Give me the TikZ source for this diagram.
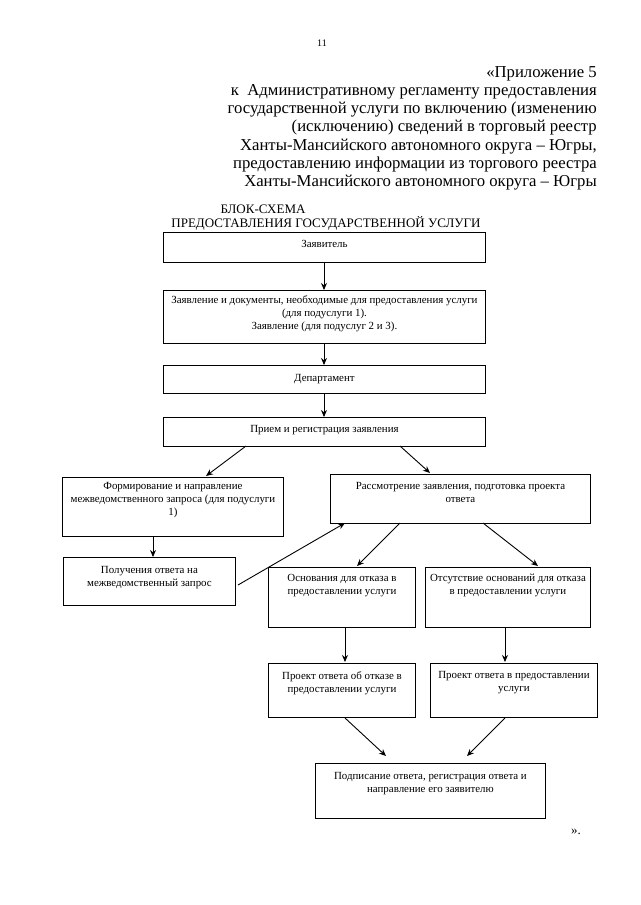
\documentclass[tikz,border=0pt]{standalone}
\usepackage{fontspec}
\setmainfont{Liberation Serif}
\usetikzlibrary{arrows.meta}
\begin{document}
\begin{tikzpicture}[x=1pt,y=-1pt,
  box/.style={draw, line width=0.9pt, anchor=north west, inner sep=0pt},
  txt/.style={anchor=north, align=center, font=\fontsize{10.9}{13}\selectfont, inner sep=0pt},
  hdr/.style={anchor=base east, inner sep=0pt, font=\fontsize{16.7}{18}\selectfont},
  arr/.style={-{Stealth[length=7pt,width=6pt]}, line width=0.9pt}]
\useasboundingbox (0,0) rectangle (640,905);
% header
\node[inner sep=0pt, anchor=base, font=\fontsize{10}{12}\selectfont] (pg) at (322,46) {11};
\node[hdr] (h1) at (597,77) {«Приложение 5};
\node[hdr] (h2) at (597,95) {к\ \ Административному регламенту предоставления};
\node[hdr] (h3) at (597,113) {государственной услуги по включению (изменению};
\node[hdr] (h4) at (597,131) {(исключению) сведений в торговый реестр};
\node[hdr] (h5) at (597,150) {Ханты-Мансийского автономного округа – Югры,};
\node[hdr] (h6) at (597,168) {предоставлению информации из торгового реестра};
\node[hdr] (h7) at (597,186) {Ханты-Мансийского автономного округа – Югры};
\node[inner sep=0pt, anchor=base, font=\fontsize{13}{15}\selectfont] (t1) at (263,213) {БЛОК-СХЕМА};
\node[inner sep=0pt, anchor=base, font=\fontsize{13}{15}\selectfont] (t2) at (326,227) {ПРЕДОСТАВЛЕНИЯ ГОСУДАРСТВЕННОЙ УСЛУГИ};
% boxes
\node[box, minimum width=322, minimum height=30] (b1) at (163,232) {};
\node[txt] (b1t) at ([yshift=-8]b1.north) {Заявитель};
\node[box, minimum width=322, minimum height=53] (b2) at (163,290) {};
\node[txt] (b2t) at ([yshift=-5]b2.north) {Заявление и документы, необходимые для предоставления услуги\\(для подуслуги 1).\\Заявление (для подуслуг 2 и 3).};
\node[box, minimum width=322, minimum height=28] (b3) at (163,365) {};
\node[txt] (b3t) at ([yshift=-9]b3.north) {Департамент};
\node[box, minimum width=322, minimum height=29] (b4) at (163,417) {};
\node[txt] (b4t) at ([yshift=-8]b4.north) {Прием и регистрация заявления};
\node[box, minimum width=221, minimum height=59] (b5) at (62,477) {};
\node[txt] (b5t) at ([yshift=-5]b5.north) {Формирование и направление\\межведомственного запроса (для подуслуги\\1)};
\node[box, minimum width=260, minimum height=49] (b6) at (330,474) {};
\node[txt] (b6t) at ([yshift=-8]b6.north) {Рассмотрение заявления, подготовка проекта\\ответа};
\node[box, minimum width=172, minimum height=48] (b7) at (63,557) {};
\node[txt] (b7t) at ([yshift=-9]b7.north) {Получения ответа на\\межведомственный запрос};
\node[box, minimum width=147, minimum height=60] (b8) at (268,567) {};
\node[txt] (b8t) at ([yshift=-7]b8.north) {Основания для отказа в\\предоставлении услуги};
\node[box, minimum width=165, minimum height=60] (b9) at (425,567) {};
\node[txt] (b9t) at ([yshift=-7]b9.north) {Отсутствие оснований для отказа\\в предоставлении услуги};
\node[box, minimum width=147, minimum height=54] (b10) at (268,663) {};
\node[txt] (b10t) at ([yshift=-8]b10.north) {Проект ответа об отказе в\\предоставлении услуги};
\node[box, minimum width=167, minimum height=54] (b11) at (430,663) {};
\node[txt] (b11t) at ([yshift=-8]b11.north) {Проект ответа в предоставлении\\услуги};
\node[box, minimum width=230, minimum height=55] (b12) at (315,763) {};
\node[txt] (b12t) at ([yshift=-9]b12.north) {Подписание ответа, регистрация ответа и\\направление его заявителю};
\node[inner sep=0pt, anchor=base west, font=\fontsize{13}{15}\selectfont] (end) at (571,834) {».};
% connector anchors
\coordinate (c1) at (324,262);
\coordinate (c2) at (324,343);
\coordinate (c3) at (324,393);
\coordinate (a4l) at (246,446);
\coordinate (a5) at (206,476);
\coordinate (a4r) at (400,446);
\coordinate (a6) at (430,473);
\coordinate (a5b) at (153,536);
\coordinate (a7t) at (153,557);
\coordinate (a7r) at (238,585);
\coordinate (a6bl) at (345,523);
\coordinate (a6b1) at (400,523);
\coordinate (a8) at (357,566);
\coordinate (a6b2) at (483,523);
\coordinate (a9) at (538,566);
\coordinate (a8b) at (345,627);
\coordinate (a10) at (345,662);
\coordinate (a9b) at (505,627);
\coordinate (a11) at (505,662);
\coordinate (a10b) at (345,718);
\coordinate (a12l) at (386,756);
\coordinate (a11b) at (505,718);
\coordinate (a12r) at (467,756);
% connectors
\draw[arr] (c1) -- (b2.north -| c1);
\draw[arr] (c2) -- (b3.north -| c2);
\draw[arr] (c3) -- (b4.north -| c3);
\draw[arr] (a4l) -- (a5);
\draw[arr] (a4r) -- (a6);
\draw[arr] (a5b) -- (a7t);
\draw[arr] (a7r) -- (a6bl);
\draw[arr] (a6b1) -- (a8);
\draw[arr] (a6b2) -- (a9);
\draw[arr] (a8b) -- (a10);
\draw[arr] (a9b) -- (a11);
\draw[arr] (a10b) -- (a12l);
\draw[arr] (a11b) -- (a12r);
\end{tikzpicture}
\end{document}
